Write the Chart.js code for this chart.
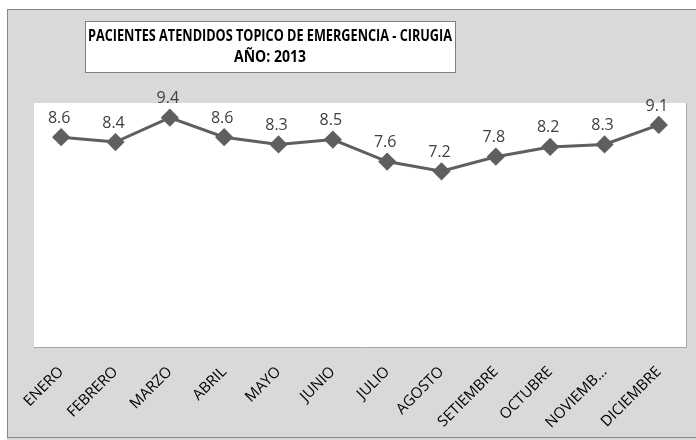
<!DOCTYPE html>
<html>
<head>
<meta charset="utf-8">
<script src="https://cdn.jsdelivr.net/npm/chart.js@4.4.0/dist/chart.umd.min.js"></script>
<style>
  html, body { margin: 0; padding: 0; background: #fff; }
  #wrap { width: 696px; height: 440px; position: relative; }
</style>
</head>
<body>
<div id="wrap"><canvas id="grafico" width="696" height="440"></canvas></div>
<script>
const meses = ["ENERO", "FEBRERO", "MARZO", "ABRIL", "MAYO", "JUNIO", "JULIO", "AGOSTO", "SETIEMBRE", "OCTUBRE", "NOVIEMB...", "DICIEMBRE"];
const pacientes = [8.6, 8.4, 9.4, 8.6, 8.3, 8.5, 7.6, 7.2, 7.8, 8.2, 8.3, 9.1];
const tituloLineas = ["PACIENTES ATENDIDOS TOPICO DE EMERGENCIA - CIRUGIA", "AÑO: 2013"];

// fondo gris, marco, area blanca y caja del titulo
const fondoPlugin = {
  id: "fondo",
  beforeDraw(chart) {
    const c = chart.ctx;
    const a = chart.chartArea;
    c.save();
    c.fillStyle = "#ffffff";
    c.fillRect(0, 0, chart.width, chart.height);
    c.fillStyle = "#d9d9d9";
    c.fillRect(7, 9, chart.width, chart.height);
    c.strokeStyle = "#868686";
    c.lineWidth = 1;
    c.strokeRect(7.5, 9.5, chart.width + 10, chart.height - 12);
    // area del grafico
    c.fillStyle = "#ffffff";
    c.fillRect(a.left, a.top, a.right - a.left, a.bottom - a.top);
    c.strokeStyle = "#a6a6a6";
    c.beginPath();
    c.moveTo(a.left, a.bottom + 0.5);
    c.lineTo(a.right + 0.5, a.bottom + 0.5);
    c.lineTo(a.right + 0.5, a.top);
    c.stroke();
    // titulo
    c.fillStyle = "#ffffff";
    c.fillRect(85, 21, 370, 51);
    c.strokeStyle = "#7f7f7f";
    c.strokeRect(85.5, 21.5, 370, 51);
    c.fillStyle = "#000000";
    c.font = "bold 16px 'Open Sans', sans-serif";
    c.textAlign = "center";
    c.textBaseline = "middle";
    c.fillText(tituloLineas[0], 270, 36, 364);
    c.fillText(tituloLineas[1], 270, 57, 72);
    c.restore();
  }
};

// etiquetas de valores sobre cada punto
const etiquetasPlugin = {
  id: "etiquetas",
  afterDatasetsDraw(chart) {
    const c = chart.ctx;
    const meta = chart.getDatasetMeta(0);
    c.save();
    c.fillStyle = "#404040";
    c.font = "16px 'Open Sans', sans-serif";
    c.textAlign = "center";
    c.textBaseline = "middle";
    meta.data.forEach((pt, i) => {
      c.fillText(pacientes[i].toFixed(1), pt.x - 2, pt.y - 19);
    });
    c.restore();
  }
};

const ctx = document.getElementById("grafico");
new Chart(ctx, {
  type: "line",
  data: {
    labels: meses,
    datasets: [{
      data: pacientes,
      borderColor: "#5f5f5f",
      backgroundColor: "#5f5f5f",
      borderWidth: 3,
      pointStyle: "rectRot",
      pointRadius: 7,
      pointHoverRadius: 7,
      tension: 0
    }]
  },
  options: {
    responsive: false,
    animation: false,
    layout: { padding: { left: 34, top: 103, right: 7, bottom: 0 } },
    plugins: {
      legend: { display: false },
      title: { display: false },
      tooltip: { enabled: false }
    },
    scales: {
      x: {
        offset: true,
        grid: { display: false, drawTicks: false },
        border: { display: false },
        ticks: {
          minRotation: 45,
          maxRotation: 45,
          autoSkip: false,
          padding: 16,
          color: "#000000",
          font: { family: "'Open Sans', sans-serif", size: 15 }
        },
        afterFit: s => { s.height = 93; }
      },
      y: {
        display: false,
        min: 0,
        max: 10
      }
    }
  },
  plugins: [fondoPlugin, etiquetasPlugin]
});
</script>
</body>
</html>
